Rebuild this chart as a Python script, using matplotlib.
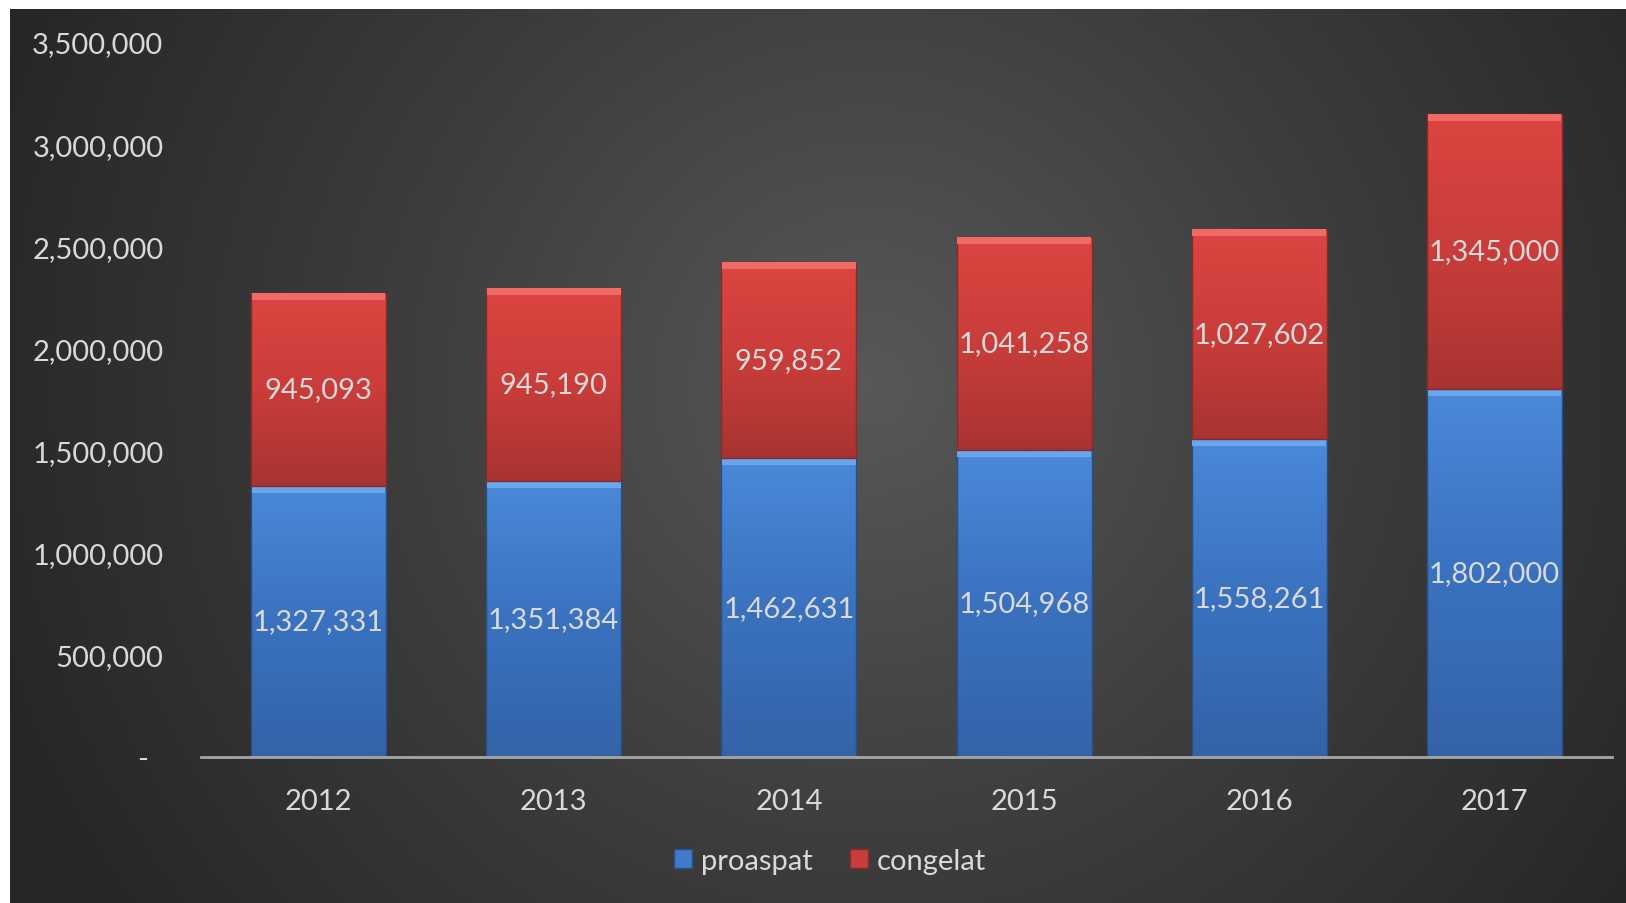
import matplotlib
matplotlib.use("Agg")
import matplotlib.pyplot as plt
import numpy as np
from matplotlib.patches import Patch
from matplotlib.colors import LinearSegmentedColormap
from matplotlib.ticker import FuncFormatter, MultipleLocator

years = ["2012", "2013", "2014", "2015", "2016", "2017"]
proaspat = [1327331, 1351384, 1462631, 1504968, 1558261, 1802000]
congelat = [945093, 945190, 959852, 1041258, 1027602, 1345000]
series_names = ["proaspat", "congelat"]

plt.rcParams['font.family'] = ['Lato', 'DejaVu Sans']

W, H = 1626, 904
fig = plt.figure(figsize=(W / 100, H / 100), dpi=100, facecolor="white")

# background with radial gradient
bg = fig.add_axes([10 / W, 0, 1 - 10 / W, (H - 10) / H])
bg.set_axis_off()
ny, nx = 300, 540
yy, xx = np.mgrid[0:ny, 0:nx]
cx, cy = nx * 0.53, ny * 0.42
r = np.sqrt(((xx - cx) / nx) ** 2 + ((yy - cy) / ny * 0.56) ** 2)
r = np.clip(r / 0.58, 0, 1)
bg_cmap = LinearSegmentedColormap.from_list("bg", ["#585858", "#3d3d3d", "#262626"])
bg.imshow(r, cmap=bg_cmap, aspect="auto", extent=[0, 1, 0, 1], origin="upper")
bg.set_xlim(0, 1)
bg.set_ylim(0, 1)

ax = fig.add_axes([201 / W, (H - 758) / H, (1612 - 201) / W, (758 - 43) / H])
ax.set_facecolor("none")
ax.patch.set_alpha(0)

x = np.arange(len(years))
bw = 135 / 235.2

blue_cmap = LinearSegmentedColormap.from_list("b", ["#4a89d9", "#3a72bf", "#3463a8"])
red_cmap = LinearSegmentedColormap.from_list("r", ["#dc4541", "#c93d3a", "#a83431"])
grad = np.linspace(0, 1, 100).reshape(-1, 1)

px2data = 3500000 / 715.0
bevel = 7 * px2data

def draw_stack(bottoms, heights, cmap, top_col, edge):
    bars = ax.bar(x, heights, bw, bottom=bottoms, color="none", edgecolor=edge,
                  linewidth=1.0, zorder=3)
    for rect in bars.patches:
        x0, y0 = rect.get_x(), rect.get_y()
        im = ax.imshow(grad, cmap=cmap, aspect="auto",
                       extent=[x0, x0 + rect.get_width(), y0, y0 + rect.get_height()],
                       origin="upper", zorder=2)
        im.set_clip_path(rect)
    ax.bar(x, [bevel] * len(x), bw * 0.99, bottom=[b + h - bevel for b, h in zip(bottoms, heights)],
           color=top_col, edgecolor="none", zorder=3)
    return bars

zeros = [0] * len(x)
draw_stack(zeros, proaspat, blue_cmap, "#6aa6ee", "#2a4f85")
draw_stack(proaspat, congelat, red_cmap, "#f06b66", "#8a2a28")
ax.set_xlim(-0.5, len(years) - 0.5)
ax.set_ylim(0, 3500000)

lab_col = "#d9d9d9"
for i in range(len(x)):
    ax.text(x[i], proaspat[i] / 2, f"{proaspat[i]:,}", ha="center", va="center",
            color=lab_col, fontsize=21, zorder=5)
    ax.text(x[i], proaspat[i] + congelat[i] / 2, f"{congelat[i]:,}", ha="center",
            va="center", color=lab_col, fontsize=21, zorder=5)

ax.yaxis.set_major_locator(MultipleLocator(500000))
ax.yaxis.set_major_formatter(FuncFormatter(lambda v, p: "-  " if v == 0 else f"{int(v):,}"))
ax.set_xticks(x)
ax.set_xticklabels(years)
ax.tick_params(axis="y", length=0, pad=27, labelsize=21, labelcolor=lab_col)
ax.tick_params(axis="x", length=0, pad=22, labelsize=21, labelcolor=lab_col)
for s in ["top", "right", "left"]:
    ax.spines[s].set_visible(False)
ax.spines["bottom"].set_color("#a6a6a6")
ax.spines["bottom"].set_linewidth(2)
ax.spines["bottom"].set_zorder(6)

handles = [Patch(facecolor="#3f7acb", edgecolor="#2a4f85", label=series_names[0]),
           Patch(facecolor="#c93d3a", edgecolor="#8a2a28", label=series_names[1])]
leg = fig.legend(handles=handles, loc="center", bbox_to_anchor=(830 / W, (H - 862) / H),
                 ncol=2, frameon=False, fontsize=21, handlelength=0.6, handleheight=0.6,
                 handletextpad=0.3, columnspacing=1.3)
for t in leg.get_texts():
    t.set_color(lab_col)

fig.savefig("out.png", dpi=100, facecolor="white")
